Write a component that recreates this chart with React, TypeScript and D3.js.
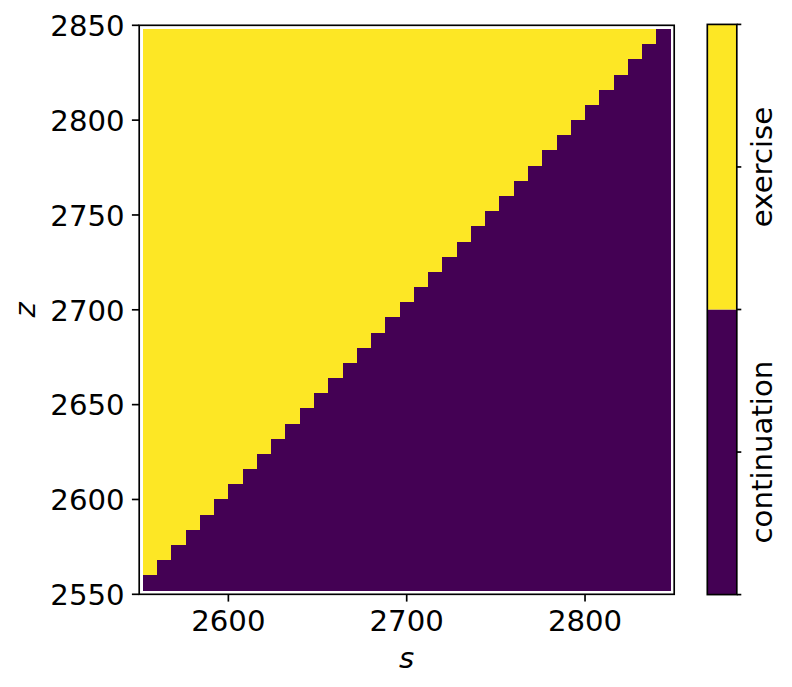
import React from "react";
import * as d3 from "d3";

const sCenters = [2556, 2564, 2572, 2580, 2588, 2596, 2604, 2612, 2620, 2628, 2636, 2644, 2652, 2660, 2668, 2676, 2684, 2692, 2700, 2708, 2716, 2724, 2732, 2740, 2748, 2756, 2764, 2772, 2780, 2788, 2796, 2804, 2812, 2820, 2828, 2836, 2844];
const zCenters = [2556, 2564, 2572, 2580, 2588, 2596, 2604, 2612, 2620, 2628, 2636, 2644, 2652, 2660, 2668, 2676, 2684, 2692, 2700, 2708, 2716, 2724, 2732, 2740, 2748, 2756, 2764, 2772, 2780, 2788, 2796, 2804, 2812, 2820, 2828, 2836, 2844];
// number of exercise cells (from the left) in each z row, bottom to top
const exerciseCounts = [0, 1, 2, 3, 4, 5, 6, 7, 8, 9, 10, 11, 12, 13, 14, 15, 16, 17, 18, 19, 20, 21, 22, 23, 24, 25, 26, 27, 28, 29, 30, 31, 32, 33, 34, 35, 36];
const cellSize = 8;
const xTicks = [2600, 2700, 2800];
const yTicks = [2550, 2600, 2650, 2700, 2750, 2800, 2850];
const classLabels = ["continuation", "exercise"];
const classColors = ["#440154", "#fde725"];

const FONT = "DejaVu Sans, sans-serif";
const FS = 29.2;

export default function App() {
  const W = 792, H = 687;
  const x = d3.scaleLinear().domain([2550, 2850]).range([139.2, 674.2]);
  const y = d3.scaleLinear().domain([2550, 2850]).range([594.3, 25.3]);
  const cb = d3.scaleLinear().domain([0, 2]).range([594.6, 24.4]);
  const cbX0 = 707.3, cbX1 = 736.8;
  const tickLen = 7.3, pad = 7.3, lw = 1.67;

  const cells: { s: number; z: number; v: number }[] = [];
  zCenters.forEach((z, i) => {
    sCenters.forEach((s, j) => {
      cells.push({ s, z, v: j < exerciseCounts[i] ? 1 : 0 });
    });
  });

  const [x0, x1] = x.range();
  const [y0, y1] = y.range();

  return (
    <svg width={W} height={H} style={{ position: "absolute", left: 0, top: 0, background: "#fff" }} fontFamily={FONT}>
      <g shapeRendering="crispEdges">
        {cells.map((c, k) => (
          <rect
            key={k}
            x={x(c.s - cellSize / 2)}
            y={y(c.z + cellSize / 2)}
            width={x(c.s + cellSize / 2) - x(c.s - cellSize / 2)}
            height={y(c.z - cellSize / 2) - y(c.z + cellSize / 2)}
            fill={classColors[c.v]}
          />
        ))}
      </g>
      {/* spines */}
      <rect x={x0} y={y1} width={x1 - x0} height={y0 - y1} fill="none" stroke="#000" strokeWidth={lw} />
      {/* x ticks */}
      {xTicks.map((t) => (
        <g key={t}>
          <line x1={x(t)} x2={x(t)} y1={y0} y2={y0 + tickLen} stroke="#000" strokeWidth={lw} />
          <text x={x(t)} y={y0 + tickLen + pad + 21.6} textAnchor="middle" fontSize={FS} fill="#000">{t}</text>
        </g>
      ))}
      {yTicks.map((t) => (
        <g key={t}>
          <line x1={x0} x2={x0 - tickLen} y1={y(t)} y2={y(t)} stroke="#000" strokeWidth={lw} />
          <text x={x0 - tickLen - pad} y={y(t) + 10.8} textAnchor="end" fontSize={FS} fill="#000">{t}</text>
        </g>
      ))}
      <text x={(x0 + x1) / 2} y={668} textAnchor="middle" fontSize={FS} fontStyle="italic" fill="#000">s</text>
      <text transform={`translate(35,${(y0 + y1) / 2}) rotate(-90)`} textAnchor="middle" fontSize={FS} fontStyle="italic" fill="#000">z</text>
      {/* colorbar */}
      {classColors.map((col, i) => (
        <rect key={i} x={cbX0} y={cb(i + 1)} width={cbX1 - cbX0} height={cb(i) - cb(i + 1)} fill={col} />
      ))}
      <rect x={cbX0} y={cb(2)} width={cbX1 - cbX0} height={cb(0) - cb(2)} fill="none" stroke="#000" strokeWidth={lw} />
      {[0, 0.5, 1, 1.5, 2].map((t) => (
        <line key={t} x1={cbX1} x2={cbX1 + 4.5} y1={cb(t)} y2={cb(t)} stroke="#000" strokeWidth={lw} />
      ))}
      {classLabels.map((lab, i) => (
        <text key={lab} transform={`translate(772,${cb(i + 0.5)}) rotate(-90)`} textAnchor="middle" fontSize={FS} fill="#000">{lab}</text>
      ))}
    </svg>
  );
}
